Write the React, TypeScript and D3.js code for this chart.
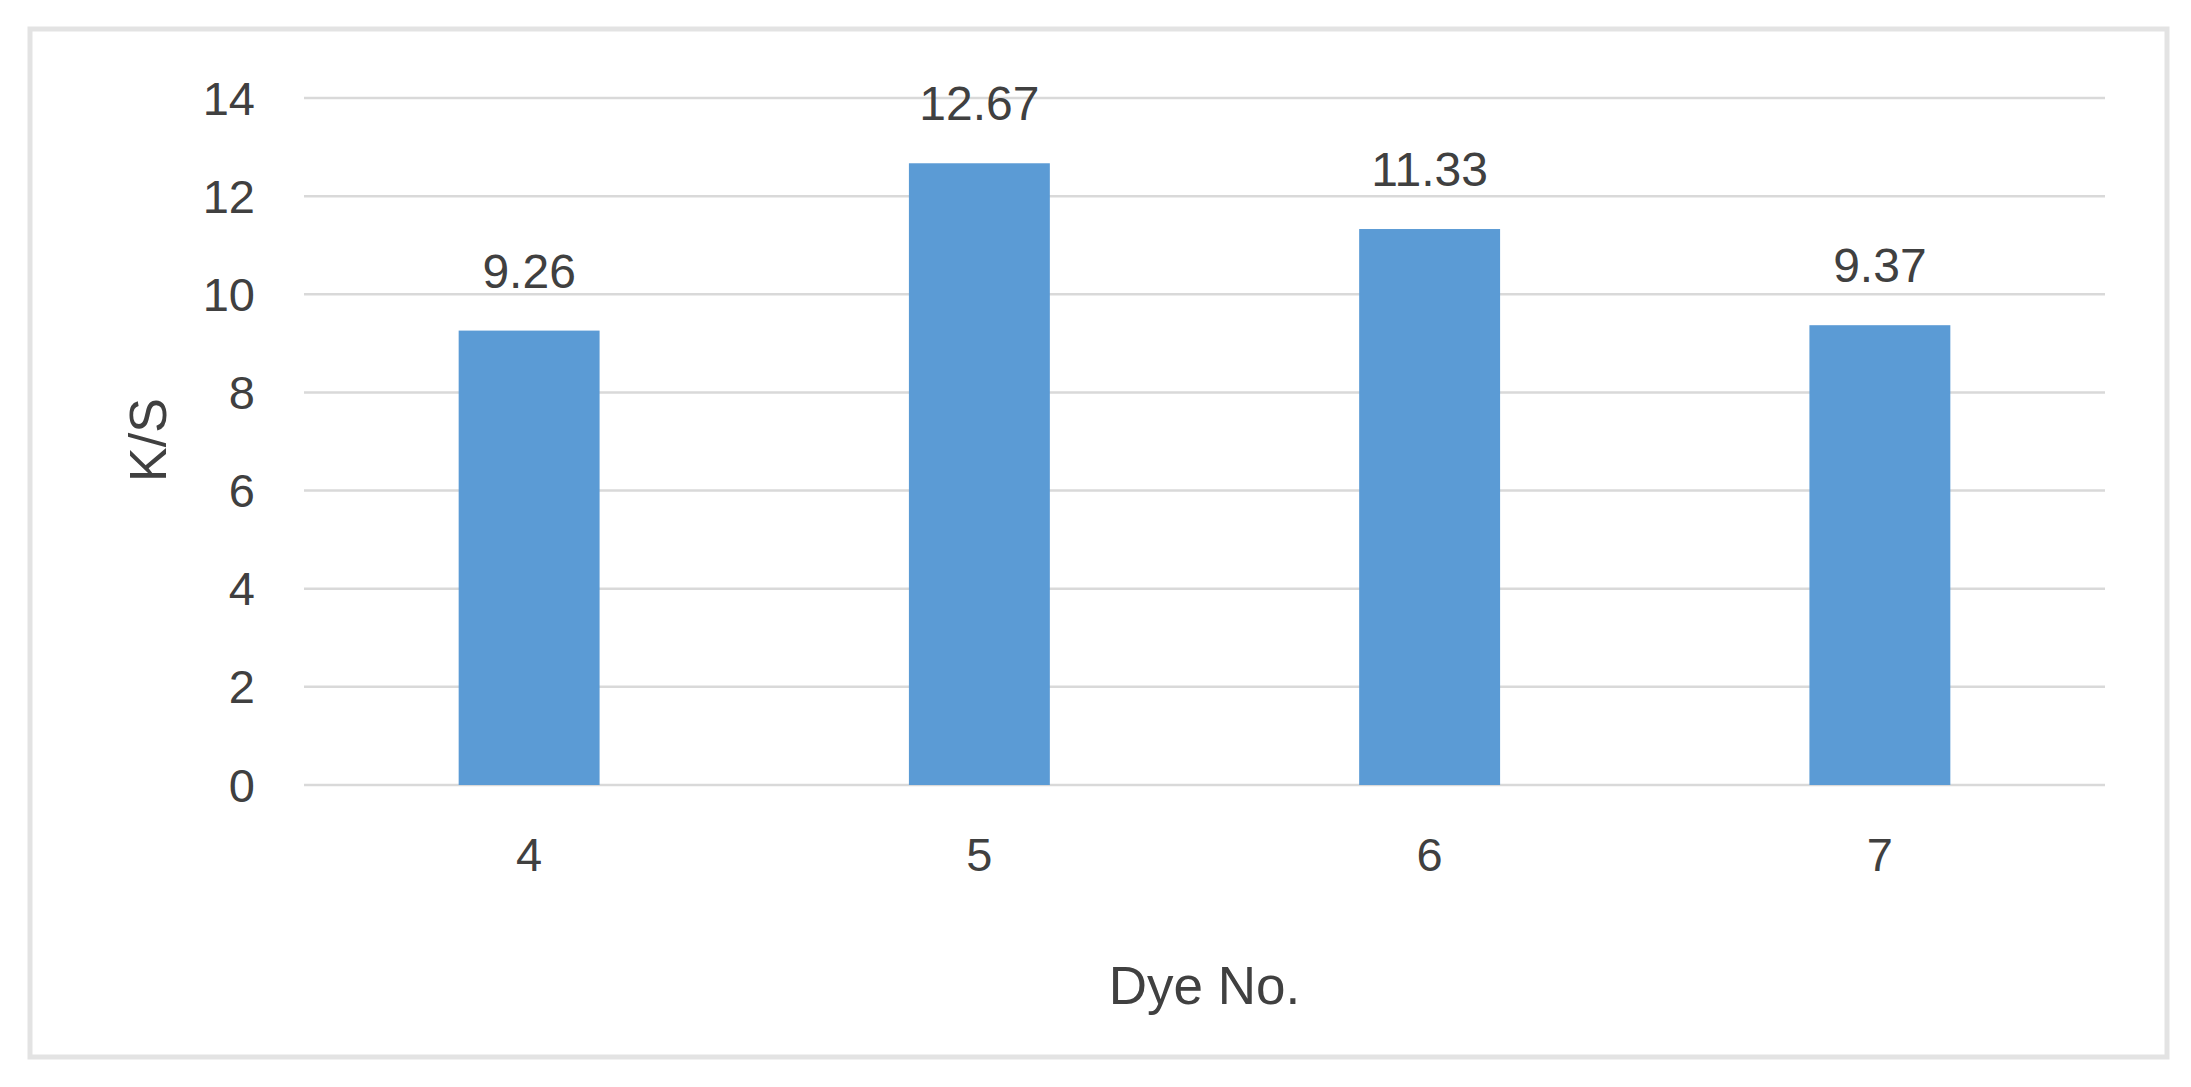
import React from "react";
import * as d3 from "d3";

const categories: string[] = ["4", "5", "6", "7"];
const values: number[] = [9.26, 12.67, 11.33, 9.37];
const valueLabels: string[] = ["9.26", "12.67", "11.33", "9.37"];
const yTicks: number[] = [0, 2, 4, 6, 8, 10, 12, 14];
const xTitle = "Dye No.";
const yTitle = "K/S";

const W = 2191;
const H = 1087;
const FONT = "'Liberation Sans', Arial, sans-serif";
const TEXT = "#404040";

export default function App() {
  const plotLeft = 304;
  const plotRight = 2105;
  const x = d3
    .scaleBand<string>()
    .domain(categories)
    .range([plotLeft, plotRight])
    .paddingInner(0.687)
    .paddingOuter(0.3435);
  const y = d3.scaleLinear().domain([0, 14]).range([785, 98]);

  return (
    <svg
      width={W}
      height={H}
      style={{ position: "absolute", left: 0, top: 0, background: "#fff" }}
    >
      <rect x={0} y={0} width={W} height={H} fill="#ffffff" />
      <rect
        x={30}
        y={29}
        width={2137}
        height={1028}
        fill="#ffffff"
        stroke="#e3e3e3"
        strokeWidth={5}
      />
      {yTicks.map((t) => (
        <g key={t}>
          <line
            x1={plotLeft}
            x2={plotRight}
            y1={y(t)}
            y2={y(t)}
            stroke="#d9d9d9"
            strokeWidth={2.5}
          />
          <text
            x={255}
            y={y(t)}
            textAnchor="end"
            dominantBaseline="central"
            fontFamily={FONT}
            fontSize={47}
            fill={TEXT}
          >
            {t}
          </text>
        </g>
      ))}
      {categories.map((c, i) => (
        <g key={c}>
          <rect
            x={x(c)!}
            y={y(values[i])}
            width={x.bandwidth()}
            height={y(0) - y(values[i])}
            fill="#5b9bd5"
          />
          <text
            x={x(c)! + x.bandwidth() / 2}
            y={y(values[i]) - 43}
            textAnchor="middle"
            fontFamily={FONT}
            fontSize={48}
            fill={TEXT}
          >
            {valueLabels[i]}
          </text>
          <text
            x={x(c)! + x.bandwidth() / 2}
            y={871}
            textAnchor="middle"
            fontFamily={FONT}
            fontSize={47}
            fill={TEXT}
          >
            {c}
          </text>
        </g>
      ))}
      <text
        x={(plotLeft + plotRight) / 2}
        y={1004}
        textAnchor="middle"
        fontFamily={FONT}
        fontSize={53}
        fill={TEXT}
      >
        {xTitle}
      </text>
      <text
        transform={`translate(166, 440) rotate(-90)`}
        textAnchor="middle"
        fontFamily={FONT}
        fontSize={52}
        fill={TEXT}
      >
        {yTitle}
      </text>
    </svg>
  );
}
